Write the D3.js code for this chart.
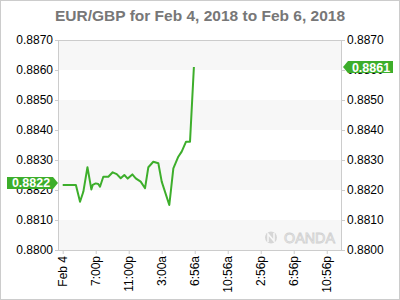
<!DOCTYPE html>
<html><head><meta charset="utf-8">
<script src="https://cdn.jsdelivr.net/npm/d3@7"></script>
<style>
html,body{margin:0;padding:0;background:#fff;}
svg{display:block;font-family:"Liberation Sans",Arial,sans-serif;}
</style></head>
<body>
<svg id="c" width="400" height="300"></svg>
<script>
// Data
const titleText = "EUR/GBP for Feb 4, 2018 to Feb 6, 2018";
const hours = [0,1.6,2.1,2.5,3.0,3.47,3.64,4.0,4.31,4.52,4.92,5.53,6.06,6.55,7.03,7.47,7.88,8.44,8.85,9.45,9.98,10.38,10.98,11.59,12.0,12.92,13.41,14.01,14.42,14.95,15.43,15.9];
const rates = [0.88217,0.88217,0.88161,0.88194,0.88276,0.88202,0.88217,0.88222,0.8822,0.88211,0.88244,0.88244,0.88259,0.88253,0.88239,0.8825,0.88238,0.88252,0.88239,0.88228,0.88206,0.88276,0.88294,0.88289,0.88228,0.8815,0.88272,0.88311,0.88328,0.88361,0.88361,0.8861];
const xTickHours = [0,4,8,12,16,20,24,28,32];
const xTickLabels = ["Feb 4","7:00p","11:00p","3:00a","6:56a","10:56a","2:56p","6:56p","10:56p"];
const yTicks = [0.8800,0.8810,0.8820,0.8830,0.8840,0.8850,0.8860,0.8870];
const firstLabel = "0.8822";
const lastLabel = "0.8861";

const svg = d3.select("#c");
const L=58, R=342, T=40, B=250;
const x = d3.scaleLinear().domain([-0.57,33.85]).range([L,R]);
const y = d3.scaleLinear().domain([0.8800,0.8870]).range([B,T]);
const green = "#3dae2b";

// outer border
svg.append("rect").attr("x",0.5).attr("y",0.5).attr("width",399).attr("height",299)
  .attr("fill","#fff").attr("stroke","#cccccc");

// title
svg.append("text").attr("x",200).attr("y",21).attr("text-anchor","middle")
  .attr("font-size",15.5).attr("font-weight","bold").attr("fill","#777")
  .text(titleText);

// bands
for(let i=0;i<yTicks.length-1;i+=2){
  svg.append("rect").attr("x",L).attr("width",R-L)
    .attr("y",y(yTicks[i+1])).attr("height",y(yTicks[i])-y(yTicks[i+1]))
    .attr("fill","#f7f7f7");
}

// watermark
const wm = svg.append("g");
wm.append("circle").attr("cx",271).attr("cy",237.5).attr("r",6).attr("fill","#d6d6d6");
wm.append("path").attr("d","M268,242 L268,234 L274,241 L274,233").attr("stroke","#f7f7f7").attr("stroke-width",1.6).attr("fill","none");
wm.append("text").attr("x",284).attr("y",243).attr("font-size",14).attr("textLength",51)
  .attr("lengthAdjust","spacingAndGlyphs").attr("fill","none").attr("stroke","#d0d0d0").attr("stroke-width",0.8)
  .text("OANDA");

// plot border
svg.append("rect").attr("x",L+0.5).attr("y",T+0.5).attr("width",R-L-1).attr("height",B-T)
  .attr("fill","none").attr("stroke","#cccccc");

// axes
const fmt = d3.format(".4f");
const yl = svg.append("g").attr("transform",`translate(${L},0)`)
  .call(d3.axisLeft(y).tickValues(yTicks).tickFormat(fmt).tickSize(3).tickPadding(2));
const yr = svg.append("g").attr("transform",`translate(${R},0)`)
  .call(d3.axisRight(y).tickValues(yTicks).tickFormat(fmt).tickSize(3).tickPadding(2));
const xa = svg.append("g").attr("transform",`translate(0,${B})`)
  .call(d3.axisBottom(x).tickValues(xTickHours).tickFormat((d,i)=>xTickLabels[i]).tickSize(4));
[yl,yr,xa].forEach(g=>{
  g.select(".domain").remove();
  g.selectAll(".tick line").attr("stroke","#cccccc");
  g.selectAll("text").attr("font-size",12).attr("fill","#000").attr("font-family","'Liberation Sans',Arial,sans-serif");
});
xa.selectAll("text").attr("transform","rotate(-90)").attr("text-anchor","end")
  .attr("x",-6).attr("y",0).attr("dy","0.35em");

// line
const pts = hours.map((h,i)=>[h,rates[i]]);
svg.append("path").datum(pts)
  .attr("d",d3.line().x(d=>x(d[0])).y(d=>y(d[1])))
  .attr("fill","none").attr("stroke",green).attr("stroke-width",2).attr("stroke-linejoin","round");

// value labels
function tag(cy, left, txt){
  const h=12;
  let p;
  if(left){
    p=`M7,${cy-h/2} L53,${cy-h/2} L58,${cy} L53,${cy+h/2} L7,${cy+h/2} Z`;
  } else {
    p=`M343,${cy} L348,${cy-h/2} L393,${cy-h/2} L393,${cy+h/2} L348,${cy+h/2} Z`;
  }
  svg.append("path").attr("d",p).attr("fill",green);
  svg.append("text").attr("x",left?31:371).attr("y",cy).attr("dy","0.36em")
    .attr("text-anchor","middle").attr("font-size",12.5).attr("font-weight","bold")
    .attr("fill","#fff").text(txt);
}
tag(y(rates[0])-2, true, firstLabel);
tag(y(rates[rates.length-1]), false, lastLabel);
</script>
</body></html>
